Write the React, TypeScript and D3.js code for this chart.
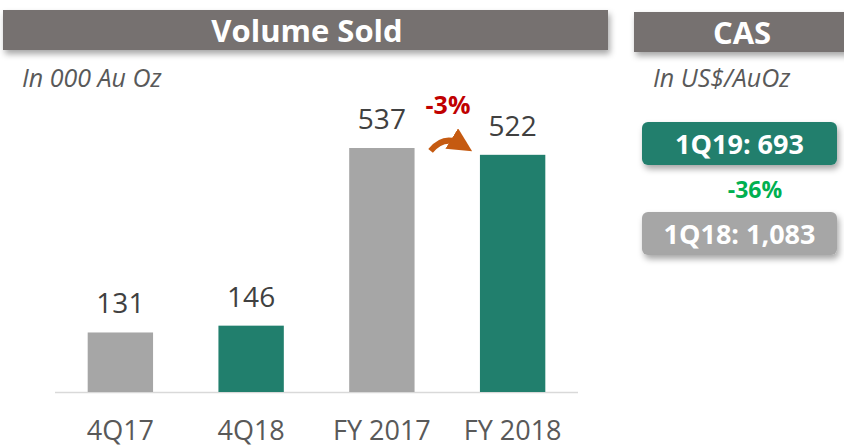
import React from 'react';
import * as d3 from 'd3';

const categories = ['4Q17', '4Q18', 'FY 2017', 'FY 2018'];
const volumes = [131, 146, 537, 522];
const barColors = ['#a6a6a6', '#217f6d', '#a6a6a6', '#217f6d'];
const volumeChange = '-3%';

const casLabels = ['1Q19: 693', '1Q18: 1,083'];
const casColors = ['#217f6d', '#a6a6a6'];
const casChange = '-36%';

const font = "'Open Sans', 'Noto Sans', sans-serif";

export default function App() {
  const width = 844;
  const height = 448;
  const baseY = 392;

  const x = d3.scaleBand<string>()
    .domain(categories)
    .range([55, 578])
    .paddingInner(0.5)
    .paddingOuter(0.25);

  const y = d3.scaleLinear()
    .domain([0, 537])
    .range([baseY, 148]);

  const bw = x.bandwidth();

  // curved arrow from FY 2017 to FY 2018
  const x0 = x('FY 2017')! + bw + 16;
  const x1 = x('FY 2018')! - 2;
  const arrowPath = d3.path();
  arrowPath.moveTo(x0, y(522) - 4);
  arrowPath.quadraticCurveTo(x0 + 14, y(537) - 14, x1 - 16, y(522) - 10);

  return (
    <svg width={width} height={height} style={{ position: 'absolute', left: 0, top: 0 }}>
      <defs>
        <filter id="sh" x="-5%" y="-20%" width="110%" height="160%">
          <feDropShadow dx="2" dy="4" stdDeviation="3" floodColor="#000" floodOpacity="0.35" />
        </filter>
        <marker id="ah" viewBox="0 0 10 10" refX="5" refY="5" markerWidth="4" markerHeight="4" orient="auto">
          <path d="M0,0 L10,5 L0,10 z" fill="#c55a11" />
        </marker>
      </defs>
      <rect width={width} height={height} fill="#fff" />

      {/* header bars */}
      <rect x={3} y={10} width={605} height={40} fill="#76716f" filter="url(#sh)" />
      <text x={307} y={42} textAnchor="middle" fill="#fff" fontFamily={font} fontWeight="bold" fontSize={31}>Volume Sold</text>
      <rect x={634} y={12} width={214} height={40} fill="#76716f" filter="url(#sh)" />
      <text x={742} y={44} textAnchor="middle" fill="#fff" fontFamily={font} fontWeight="bold" fontSize={31}>CAS</text>

      <text x={22} y={87} fill="#595959" fontFamily={font} fontStyle="italic" fontSize={25}>In 000 Au Oz</text>
      <text x={653} y={87} fill="#595959" fontFamily={font} fontStyle="italic" fontSize={25}>In US$/AuOz</text>

      {/* axis line */}
      <line x1={55} x2={578} y1={baseY + 0.5} y2={baseY + 0.5} stroke="#d9d9d9" strokeWidth={1.5} />

      {volumes.map((v, i) => (
        <g key={categories[i]}>
          <rect x={x(categories[i])} y={y(v)} width={bw} height={baseY - y(v)} fill={barColors[i]} />
          <text x={x(categories[i])! + bw / 2} y={y(v) - 19} textAnchor="middle" fill="#404040" fontFamily={font} fontSize={28}>{v}</text>
          <text x={x(categories[i])! + bw / 2} y={440} textAnchor="middle" fill="#595959" fontFamily={font} fontSize={27}>{categories[i]}</text>
        </g>
      ))}

      <text x={448} y={114} textAnchor="middle" fill="#c00000" fontFamily={font} fontWeight="bold" fontSize={25}>{volumeChange}</text>
      <path d={arrowPath.toString()} fill="none" stroke="#c55a11" strokeWidth={6} markerEnd="url(#ah)" />

      {/* CAS boxes */}
      {casLabels.map((t, i) => {
        const by = i === 0 ? 122 : 212;
        return (
          <g key={t}>
            <rect x={642} y={by} width={195} height={43} rx={6} fill={casColors[i]} filter="url(#sh)" />
            <text x={739.5} y={by + 32} textAnchor="middle" fill="#fff" fontFamily={font} fontWeight="bold" fontSize={27}>{t}</text>
          </g>
        );
      })}
      <text x={755} y={198} textAnchor="middle" fill="#00b050" fontFamily={font} fontWeight="bold" fontSize={23}>{casChange}</text>
    </svg>
  );
}
